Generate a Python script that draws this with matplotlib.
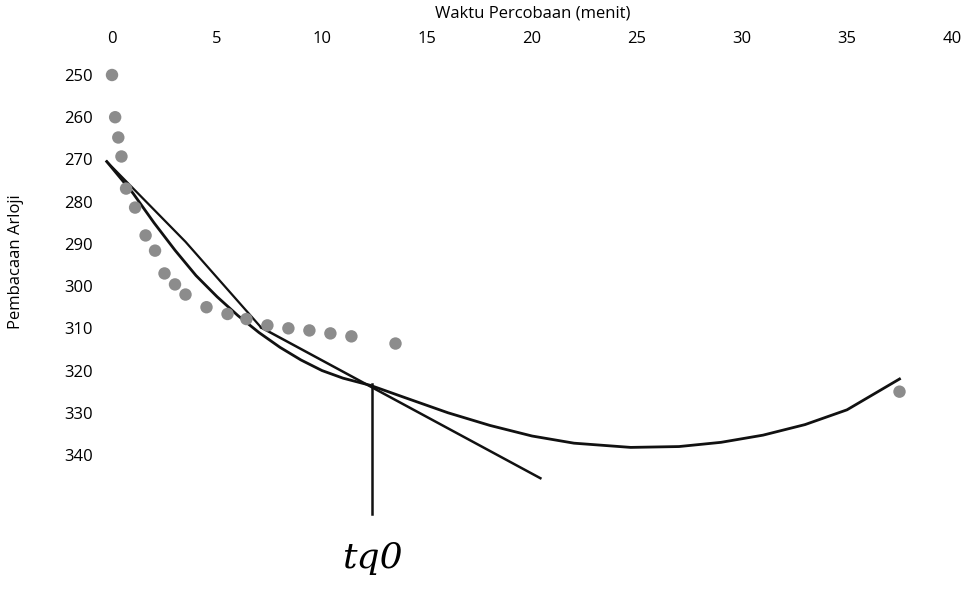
import numpy as np
import matplotlib.pyplot as plt

plt.rcParams['font.family'] = ['Open Sans', 'DejaVu Sans']

# observed points (minutes, watch reading)
t_obs = [0, 0.15, 0.3, 0.45, 0.67, 1.1, 1.6, 2.05, 2.5, 3.0, 3.5, 4.5, 5.5, 6.4,
         7.4, 8.4, 9.4, 10.4, 11.4, 13.5, 37.5]
r_obs = [250, 260, 264.8, 269.3, 276.9, 281.4, 288, 291.6, 297, 299.6, 302, 305,
         306.6, 307.8, 309.3, 310, 310.5, 311.2, 311.9, 313.6, 325]

# hand drawn curve
t_curve = [-0.25, 1, 2, 3, 4, 5, 6, 7, 8, 9, 10, 11, 12.3, 14, 16, 18, 20, 22,
           24.7, 27, 29, 31, 33, 35, 37.5]
r_curve = [270.5, 278, 285, 291.5, 297.5, 302.5, 307, 311, 314.5, 317.5, 320, 321.8, 323.5,
           326.5, 330, 333, 335.5, 337.2, 338.2, 338, 337, 335.3, 332.8, 329.3, 322]

# upper straight stroke and tangent line
t_stroke = [-0.25, 3.5, 7.1]
r_stroke = [270.5, 289.5, 309.8]
t_tan = [7.1, 20.4]
r_tan = [309.8, 345.5]

# vertical marker at t90
t_v = [12.4, 12.4]
r_v = [323.3, 354]

xticks = [0, 5, 10, 15, 20, 25, 30, 35, 40]
yticks = [250, 260, 270, 280, 290, 300, 310, 320, 330, 340]

fig = plt.figure(figsize=(9.73, 5.97), dpi=100)
ax = fig.add_axes([112/973, 1-455/597, 840/973, 380/597])
ax.set_xlim(0, 40)
ax.set_ylim(340, 250)

ax.scatter(t_obs, r_obs, s=80, color='#8c8c8c', edgecolors='none', clip_on=False, zorder=3)
ax.plot(t_curve, r_curve, color='#111111', lw=2, clip_on=False)
ax.plot(t_stroke, r_stroke, color='#111111', lw=1.6, clip_on=False)
ax.plot(t_tan, r_tan, color='#111111', lw=1.8, clip_on=False)
ax.plot(t_v, r_v, color='#111111', lw=1.8, clip_on=False)

for s in ax.spines.values():
    s.set_visible(False)
ax.set_xticks(xticks)
ax.set_yticks(yticks)
ax.tick_params(length=0, labelsize=12, top=True, labeltop=True, bottom=False, labelbottom=False)
ax.tick_params(axis='x', pad=20)
ax.tick_params(axis='y', pad=14)

fig.text(533/973, 1-14/597, 'Waktu Percobaan (menit)', ha='center', va='center', fontsize=12)
fig.text(16/973, 1-262/597, 'Pembacaan Arloji', ha='center', va='center', fontsize=12, rotation=90)
fig.text(372/973, 1-558/597, 'tq0', ha='center', va='center', fontsize=26, style='italic',
         family=['DejaVu Serif'])

fig.savefig('out.png', dpi=100)
